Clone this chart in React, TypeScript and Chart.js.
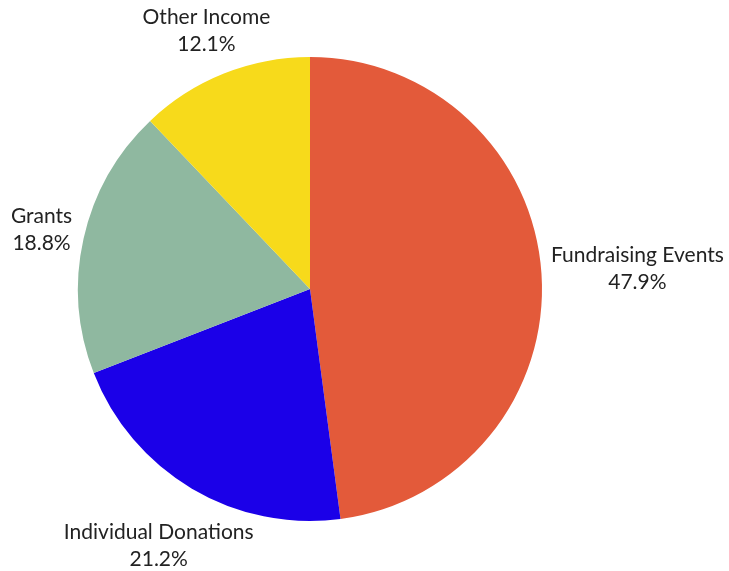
import { useEffect, useRef } from "react";
import { Chart, registerables } from "chart.js";

Chart.register(...registerables);

const categories = ["Fundraising Events", "Individual Donations", "Grants", "Other Income"];
const shares = [47.9, 21.2, 18.8, 12.1];
const sliceColors = ["#E35A3A", "#1B00E8", "#8FB8A0", "#F7DA1B"];

const FONT_SIZE = 21;
const LINE_GAP = 27;
const LABEL_GAP = 9;

const outsideLabels = {
  id: "outsideLabels",
  afterDraw(chart: any) {
    const ctx = chart.ctx as CanvasRenderingContext2D;
    const meta = chart.getDatasetMeta(0);
    const values = chart.data.datasets[0].data as number[];
    ctx.save();
    ctx.font = `${FONT_SIZE}px Lato`;
    ctx.fillStyle = "#222222";
    ctx.textAlign = "center";
    ctx.textBaseline = "alphabetic";
    meta.data.forEach((arc: any, i: number) => {
      const p = arc.getProps(["x", "y", "startAngle", "endAngle", "outerRadius"], true);
      const mid = (p.startAngle + p.endAngle) / 2;
      const ux = Math.cos(mid);
      const uy = Math.sin(mid);
      const line1 = String(chart.data.labels[i]);
      const line2 = `${values[i].toFixed(1)}%`;
      const m1 = ctx.measureText(line1);
      const m2 = ctx.measureText(line2);
      const w = Math.max(m1.width, m2.width);
      const capH = m1.actualBoundingBoxAscent || FONT_SIZE * 0.72;
      const h = capH + LINE_GAP;
      const target = p.outerRadius + LABEL_GAP;
      const nearest = (d: number) => {
        const cx = ux * d;
        const cy = uy * d;
        const nx = Math.max(cx - w / 2, Math.min(0, cx + w / 2));
        const ny = Math.max(cy - h / 2, Math.min(0, cy + h / 2));
        return Math.hypot(nx, ny);
      };
      let lo = 0;
      let hi = 2000;
      for (let k = 0; k < 60; k++) {
        const m = (lo + hi) / 2;
        if (nearest(m) < target) lo = m;
        else hi = m;
      }
      const bx = p.x + ux * hi;
      const by = p.y + uy * hi;
      const top = by - h / 2;
      ctx.fillText(line1, bx, top + capH);
      ctx.fillText(line2, bx, top + capH + LINE_GAP);
    });
    ctx.restore();
  },
};

export default function App() {
  const ref = useRef<HTMLCanvasElement | null>(null);
  useEffect(() => {
    if (!ref.current) return;
    const chart = new Chart(ref.current, {
      type: "pie",
      data: {
        labels: categories,
        datasets: [
          {
            data: shares,
            backgroundColor: sliceColors,
            borderWidth: 0,
            hoverOffset: 0,
            offset: 0,
          },
        ],
      },
      options: {
        animation: false,
        responsive: true,
        maintainAspectRatio: false,
        layout: { padding: { left: 78, top: 57, right: 187, bottom: 50 } },
        plugins: {
          legend: { display: false },
          tooltip: { enabled: false },
        },
      },
      plugins: [outsideLabels],
    });
    return () => chart.destroy();
  }, []);
  return (
    <div style={{ position: "absolute", left: 0, top: 0, width: 729, height: 571, background: "#fff" }}>
      <canvas ref={ref} />
    </div>
  );
}
